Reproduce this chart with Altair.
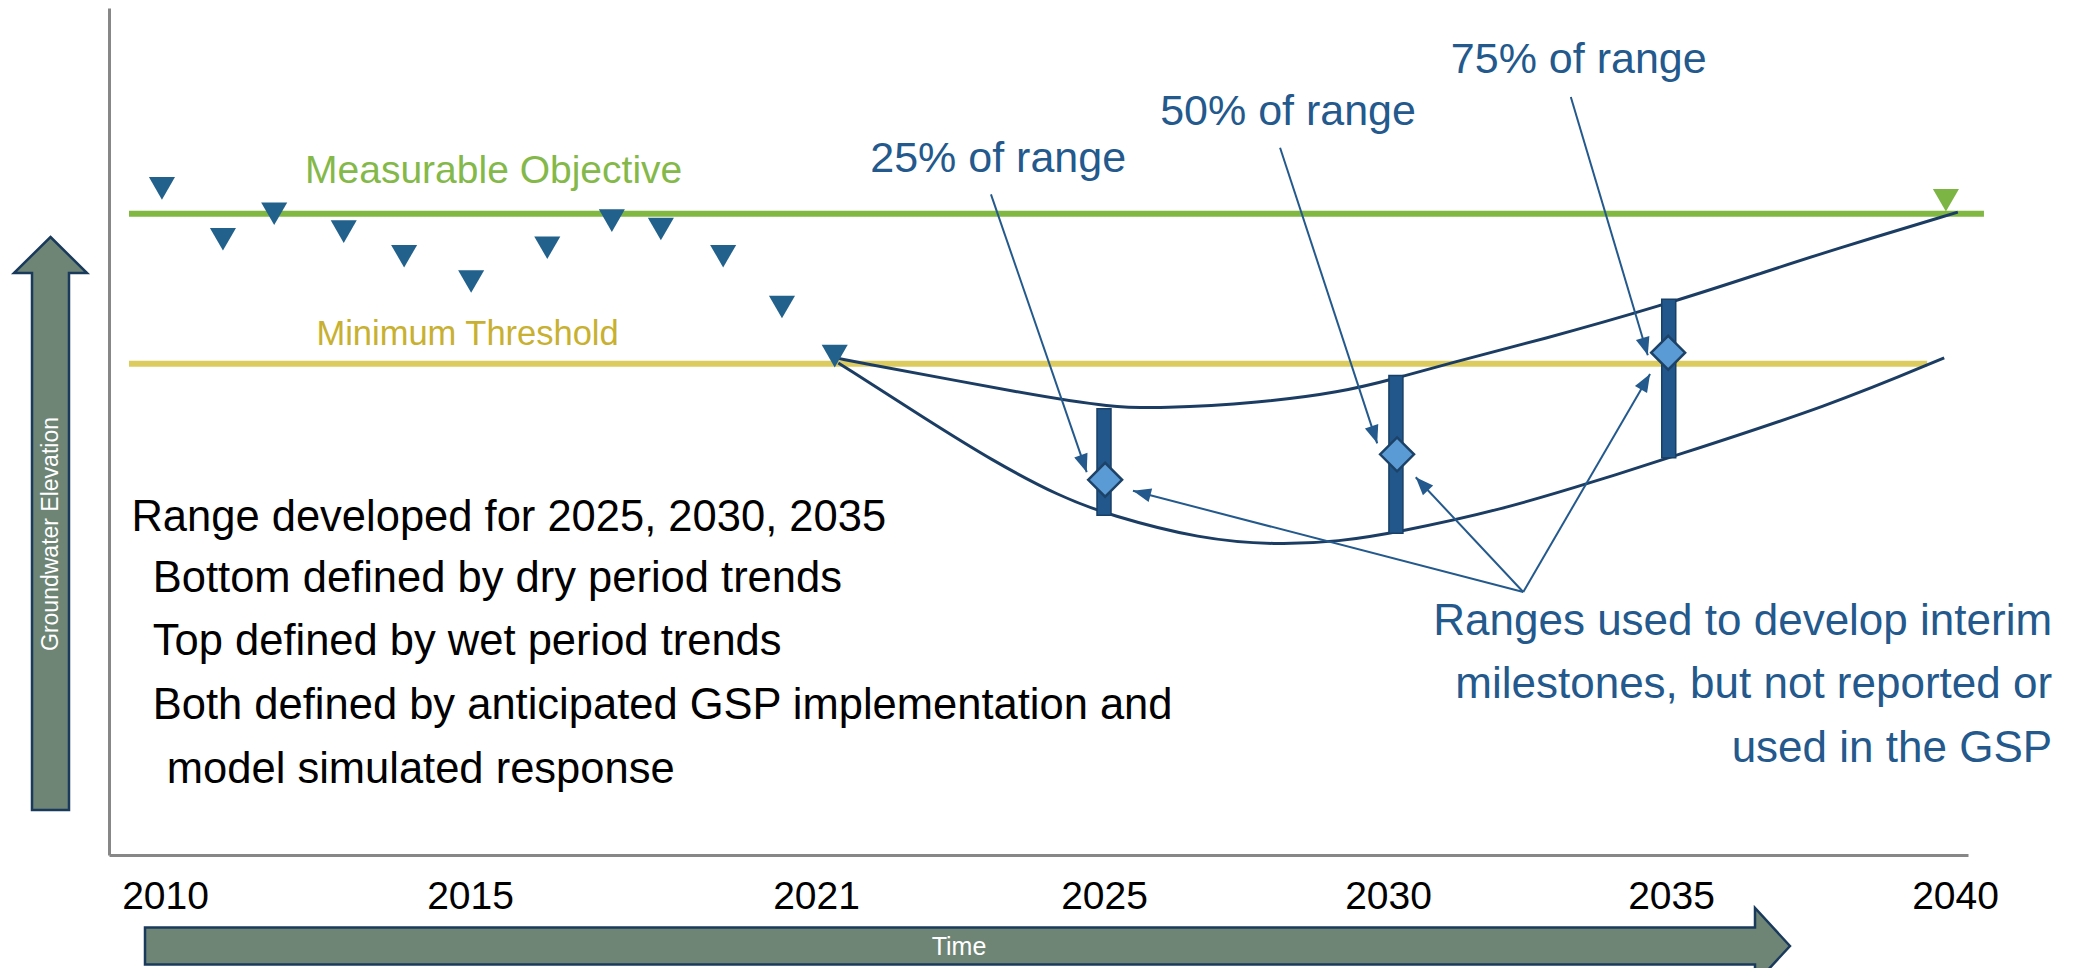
import altair as alt
import numpy as np
import pandas as pd

# ---------------- schematic time axis (year -> plot position) ----------------
tick_years = [2010, 2015, 2021, 2025, 2030, 2035, 2040]
W, H = 1859, 847
scale_years = [2009.082, 2010, 2015, 2021, 2025, 2030, 2035, 2040, 2040.229]
scale_pos = [0, 56, 361, 707, 995, 1279, 1562, 1846, W]
ELEV_DOMAIN = [0, 100]

# ---------------- observed groundwater levels (triangles) ----------------
obs_year = [2009.95, 2010.95, 2011.79, 2012.93, 2013.92, 2015.02,
            2016.34, 2017.46, 2018.31, 2019.39, 2020.41, 2021.26]
obs_elev = [78.7, 72.7, 75.7, 73.6, 70.7, 67.7, 71.7, 74.9, 73.9, 70.7, 64.7, 58.9]
goal_year = [2039.84]
goal_elev = [77.3]

# ---------------- sustainability levels ----------------
level_names = ["Measurable Objective", "Minimum Threshold"]
level_elev = [75.7, 58.0]
level_start = [2009.41, 2009.41]
level_end = [2040.51, 2039.51]
level_label_year = [2015.41, 2014.96]
level_label_elev = [79.3, 60.2]

# ---------------- projected trends ----------------
wet_year = [2021.26, 2024.07, 2025.11, 2025.99, 2027.75, 2029.15, 2030.16,
            2031.10, 2032.69, 2034.81, 2036.64, 2037.82, 2040.05]
wet_elev = [58.7, 54.2, 52.9, 52.7, 53.4, 54.6, 56.3, 58.1, 60.8, 64.8, 68.8, 71.4, 75.9]
dry_year = [2021.31, 2022.54, 2023.44, 2024.39, 2025.11, 2026.69, 2028.03,
            2029.15, 2030.16, 2031.98, 2033.75, 2034.96, 2037.82, 2039.81]
dry_elev = [58.1, 51.4, 46.6, 42.3, 40.1, 37.3, 36.6, 37.0, 38.1, 40.7, 44.3, 46.9, 53.1, 58.7]

# ---------------- interim milestone ranges ----------------
rng_year = [2025.0, 2030.14, 2034.96]
rng_low = [40.1, 38.0, 46.9]
rng_high = [52.7, 56.6, 65.6]
ms_year = [2025.02, 2030.16, 2034.95]
ms_elev = [44.3, 47.3, 59.3]

# ---------------- annotations ----------------
pct_labels = ["25% of range", "50% of range", "75% of range"]
pct_label_year = [2023.53, 2028.24, 2033.37]
pct_label_elev = [80.6, 86.2, 92.3]
pct_from_year = [2023.43, 2028.10, 2033.23]
pct_from_elev = [78.0, 83.5, 89.5]
pct_to_year = [2024.76, 2029.81, 2034.59]
pct_to_elev = [45.2, 48.6, 59.0]

note_from_year = [2032.39, 2032.39, 2032.39]
note_from_elev = [31.05, 31.05, 31.05]
note_to_year = [2025.51, 2030.49, 2034.63]
note_to_elev = [43.0, 44.6, 56.8]

left_lines = ["Range developed for 2025, 2030, 2035",
              "Bottom defined by dry period trends",
              "Top defined by wet period trends",
              "Both defined by anticipated GSP implementation and",
              "model simulated response"]
left_year = [2009.45, 2009.8, 2009.8, 2009.8, 2010.03]
left_elev = [38.3, 31.1, 23.6, 16.1, 8.5]

right_lines = ["Ranges used to develop interim",
               "milestones, but not reported or",
               "used in the GSP"]
right_year = [2041.71, 2041.71, 2041.71]
right_elev = [26.0, 18.5, 11.0]

# ---------------- styles ----------------
FONT = "Liberation Sans, Arial, sans-serif"
BLUE = "#23598c"
NAVY = "#1c3d63"
GREEN = "#80b842"
GREEN_TXT = "#84b94a"
YELLOW = "#dccb5e"
YELLOW_TXT = "#c8b030"
ARROW_FILL = "#6e8575"
ARROW_EDGE = "#1a3a5c"
AXIS_GRAY = "#878787"

xs = alt.Scale(type="linear", domain=scale_years, range=scale_pos, nice=False, zero=False, padding=0)
ys = alt.Scale(type="linear", domain=ELEV_DOMAIN, nice=False, zero=False, padding=0)
xaxis = alt.Axis(values=tick_years, format="d", title=None, grid=False, ticks=False,
                 tickSize=0, labelPadding=22, labelFont=FONT, labelFontSize=39,
                 labelColor="black", domainColor=AXIS_GRAY, domainWidth=3,
                 labelFlush=False, labelOverlap=False, labelBound=False)
yaxis = alt.Axis(title=None, grid=False, ticks=False, tickSize=0, labels=False,
                 domainColor=AXIS_GRAY, domainWidth=3)


def X(f):
    return alt.X(f, type="quantitative", scale=xs, axis=xaxis)


def Y(f):
    return alt.Y(f, type="quantitative", scale=ys, axis=yaxis)


# arrowhead orientation from the on-screen direction of each annotation arrow
def px(v):
    return np.interp(v, scale_years, scale_pos)


def py(v):
    return (ELEV_DOMAIN[1] - np.asarray(v)) / (ELEV_DOMAIN[1] - ELEV_DOMAIN[0]) * H


arrows = pd.DataFrame({
    "x1": pct_from_year + note_from_year,
    "y1": pct_from_elev + note_from_elev,
    "x2": pct_to_year + note_to_year,
    "y2": pct_to_elev + note_to_elev,
})
dx = px(arrows["x2"].values) - px(arrows["x1"].values)
dy = py(arrows["y2"].values) - py(arrows["y1"].values)
arrows["angle"] = (np.degrees(np.arctan2(dx, -dy)) + 360) % 360

obs = pd.DataFrame({"year": obs_year, "elev": obs_elev})
goal = pd.DataFrame({"year": goal_year, "elev": goal_elev})
trends = pd.concat([
    pd.DataFrame({"trend": "wet", "year": wet_year, "elev": wet_elev}),
    pd.DataFrame({"trend": "dry", "year": dry_year, "elev": dry_elev}),
])
ranges = pd.DataFrame({"year": rng_year, "low": rng_low, "high": rng_high})
miles = pd.DataFrame({"year": ms_year, "elev": ms_elev})
pct = pd.DataFrame({"label": pct_labels, "year": pct_label_year, "elev": pct_label_elev})
left_df = pd.DataFrame({"label": left_lines, "year": left_year, "elev": left_elev})
right_df = pd.DataFrame({"label": right_lines, "year": right_year, "elev": right_elev})
one = pd.DataFrame({"k": [0]})

layers = []
for i, (line_col, txt_col, txt_size) in enumerate([(GREEN, GREEN_TXT, 39), (YELLOW, YELLOW_TXT, 34.5)]):
    lv = pd.DataFrame({"level": [level_names[i]], "elev": [level_elev[i]],
                       "start": [level_start[i]], "end": [level_end[i]],
                       "ly": [level_label_year[i]], "le": [level_label_elev[i]]})
    layers.append(alt.Chart(lv).mark_rule(strokeWidth=6, strokeCap="butt", color=line_col).encode(
        x=X("start"), x2="end", y=Y("elev")))
    layers.append(alt.Chart(lv).mark_text(font=FONT, fontSize=txt_size, color=txt_col, align="center",
                                          baseline="alphabetic").encode(x=X("ly"), y=Y("le"), text="level:N"))
level_rules = [layers[0], layers[2]]
level_texts = [layers[1], layers[3]]

trend_lines = alt.Chart(trends).mark_line(interpolate="basis", strokeWidth=3, color=NAVY).encode(
    x=X("year"), y=Y("elev"), detail="trend:N", order="year:Q"
)

range_bars = alt.Chart(ranges).mark_bar(size=14, fill="#22578c", stroke="#183f66", strokeWidth=1.5).encode(
    x=X("year"), y=Y("low"), y2="high"
)

arrow_lines = alt.Chart(arrows).mark_rule(strokeWidth=2, color=BLUE).encode(
    x=X("x1"), y=Y("y1"), x2="x2", y2="y2"
)

arrow_heads = alt.Chart(arrows).mark_point(
    shape="M0,0L-7,18L7,18Z", size=4, filled=True, fill=BLUE, opacity=1, strokeWidth=0
).encode(x=X("x2"), y=Y("y2"), angle=alt.Angle("angle:Q", scale=None))

diamonds = alt.Chart(miles).mark_point(
    shape="diamond", size=1150, filled=True, fill="#5b9bd5", stroke="#1d4268", strokeWidth=2.5, opacity=1
).encode(x=X("year"), y=Y("elev"))

obs_pts = alt.Chart(obs).mark_point(shape="triangle-down", size=680, filled=True,
                                     color="#21618c", opacity=1).encode(x=X("year"), y=Y("elev"))
goal_pts = alt.Chart(goal).mark_point(shape="triangle-down", size=680, filled=True,
                                       color="#7db544", opacity=1).encode(x=X("year"), y=Y("elev"))

pct_text = alt.Chart(pct).mark_text(font=FONT, fontSize=43, color=BLUE, align="center",
                                    baseline="alphabetic").encode(x=X("year"), y=Y("elev"), text="label:N")

left_text = alt.Chart(left_df).mark_text(font=FONT, fontSize=43.5, color="black", align="left",
                                         baseline="alphabetic").encode(x=X("year"), y=Y("elev"), text="label:N")

right_text = alt.Chart(right_df).mark_text(font=FONT, fontSize=44, color=BLUE, align="right",
                                           baseline="alphabetic").encode(x=X("year"), y=Y("elev"), text="label:N")

# decorative axis arrows (drawn outside the plot area)
up_arrow = alt.Chart(one).mark_point(
    shape="M0,0L36.5,36L18.5,36L18.5,573L-18.5,573L-18.5,36L-36.5,36Z",
    size=4, filled=True, fill=ARROW_FILL, stroke=ARROW_EDGE, strokeWidth=2.5, opacity=1
).encode(x=alt.value(-58.5), y=alt.value(229))
up_text = alt.Chart(one).mark_text(font=FONT, fontSize=23, color="white", angle=270,
                                   align="center", baseline="middle").encode(
    x=alt.value(-58.5), y=alt.value(526), text=alt.value("Groundwater Elevation"))

time_arrow = alt.Chart(one).mark_point(
    shape="M0,0L-35,-38L-35,-18.5L-1645,-18.5L-1645,18.5L-35,18.5L-35,38Z",
    size=4, filled=True, fill=ARROW_FILL, stroke=ARROW_EDGE, strokeWidth=2.5, opacity=1
).encode(x=alt.value(1681), y=alt.value(938))
time_text = alt.Chart(one).mark_text(font=FONT, fontSize=25, color="white",
                                     align="center", baseline="middle").encode(
    x=alt.value(850), y=alt.value(939), text=alt.value("Time"))

chart = alt.layer(
    *level_rules, trend_lines, range_bars, arrow_lines, arrow_heads, diamonds,
    obs_pts, goal_pts, pct_text, *level_texts, left_text, right_text,
    up_arrow, up_text, time_arrow, time_text,
).properties(
    width=W, height=H,
    padding={"left": 101, "top": 0, "right": 98, "bottom": 113},
    autosize=alt.AutoSizeParams(type="none"),
    background="white",
).configure_view(stroke=None)

chart.save("out.html", embed_options={"renderer": "svg", "actions": False})
